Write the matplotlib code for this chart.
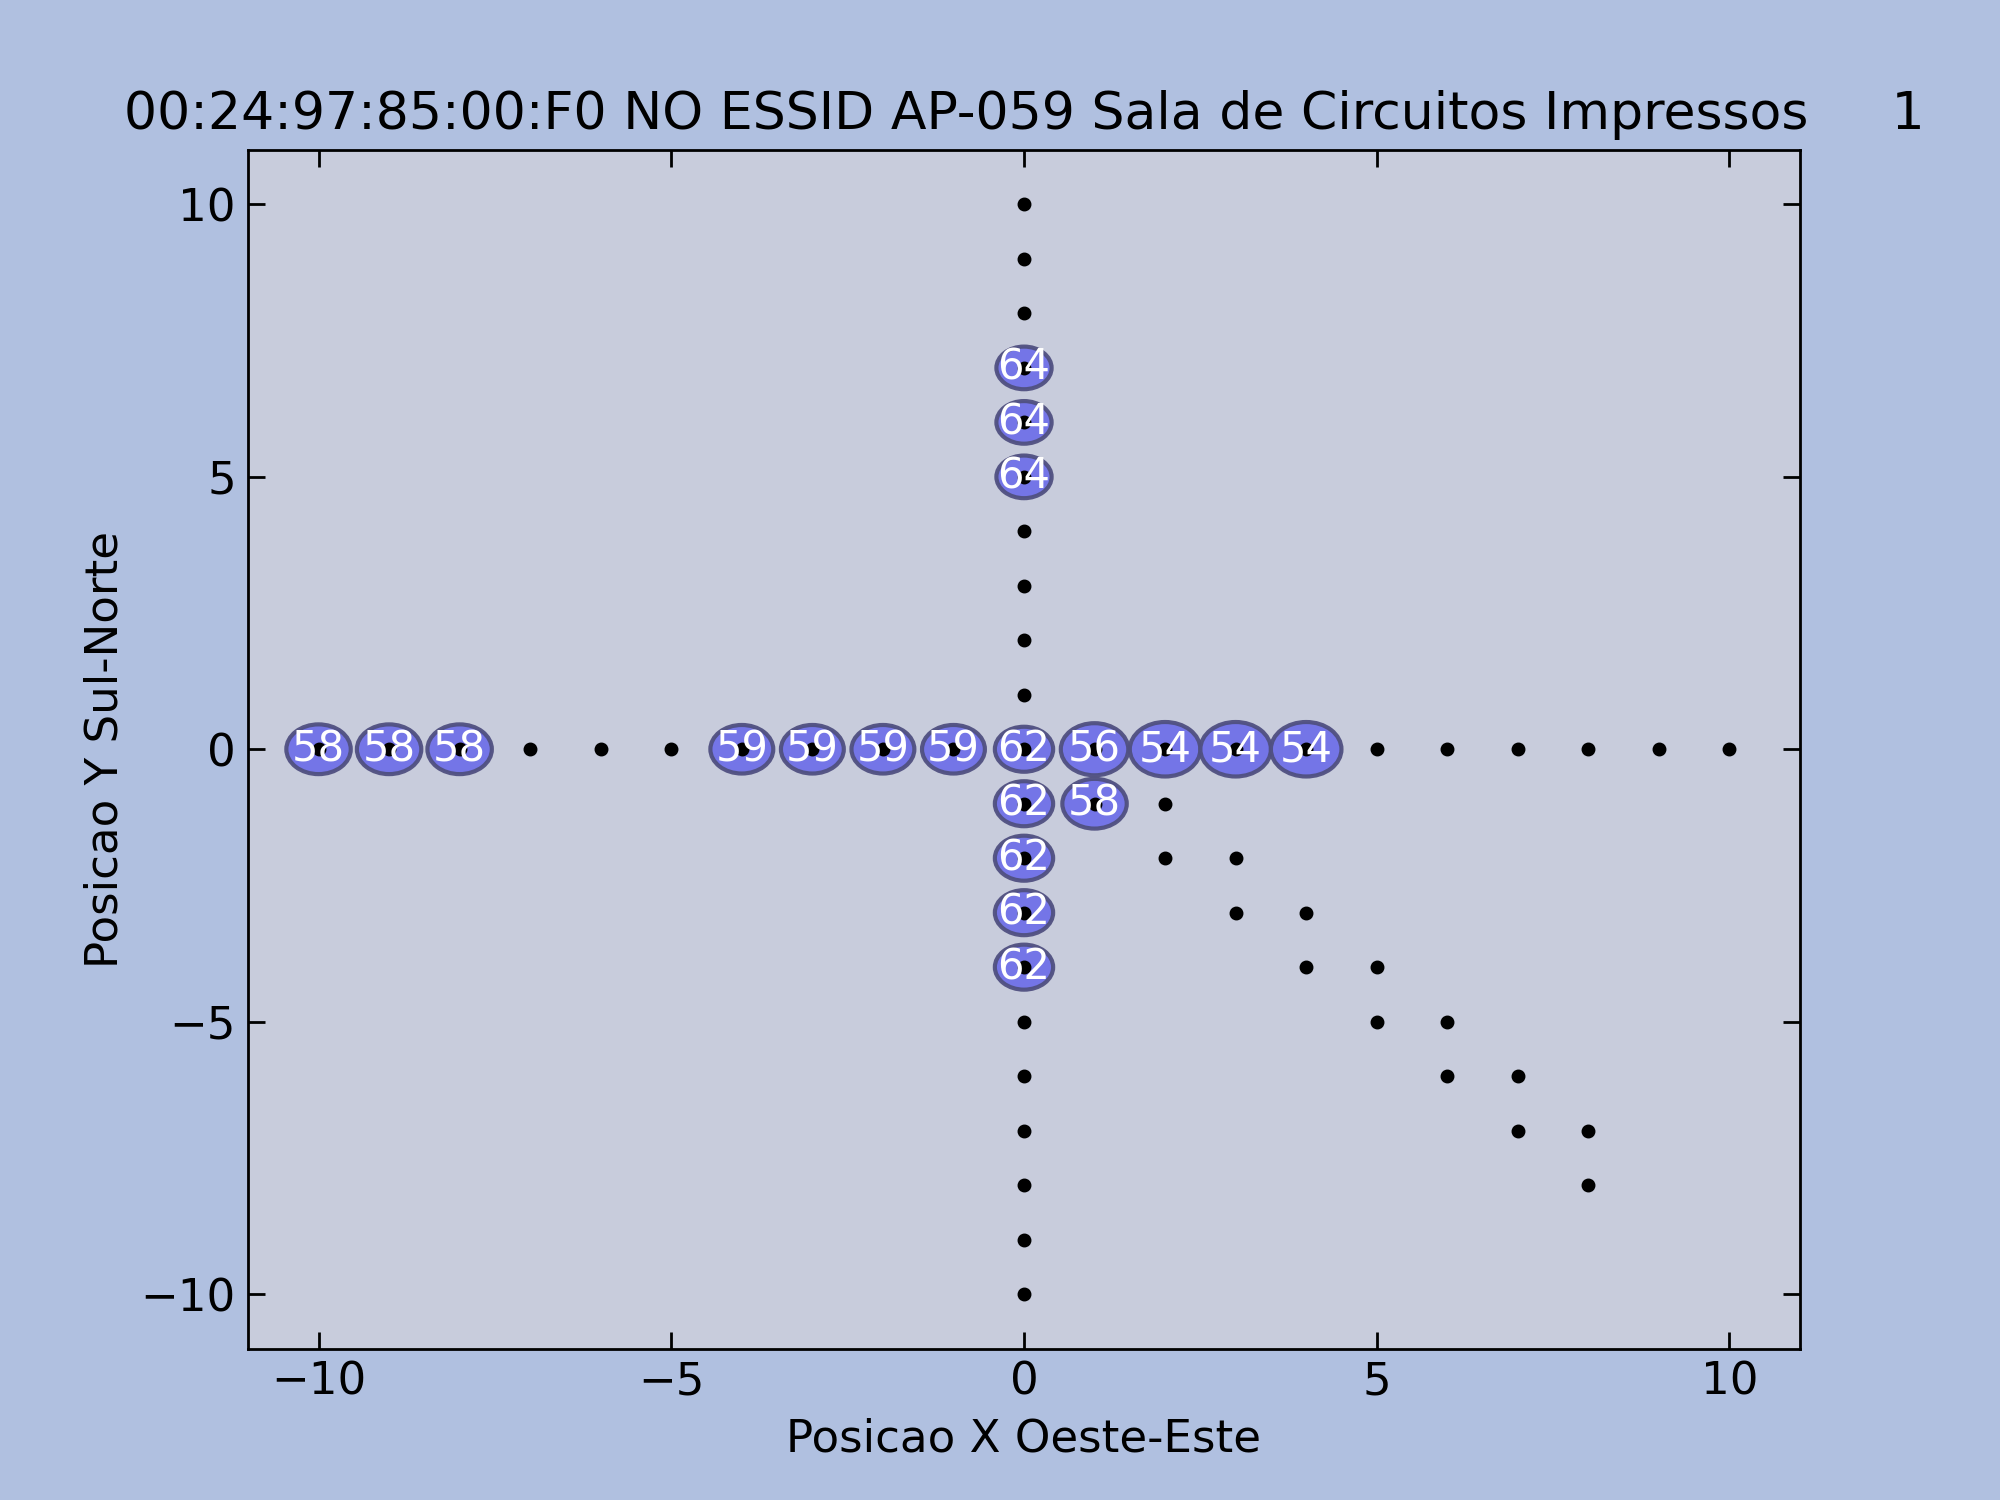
import matplotlib.pyplot as plt
from matplotlib.patches import Ellipse
import numpy as np

grid_x = list(range(-10, 11)) + [0] * 20 + [1, 2, 2, 3, 3, 4, 4, 5, 5, 6, 6, 7, 7, 8, 8]
grid_y = [0] * 21 + [v for v in range(-10, 11) if v != 0] + [-1, -1, -2, -2, -3, -3, -4, -4, -5, -5, -6, -6, -7, -7, -8]

sig_x = [-10, -9, -8, -4, -3, -2, -1, 0, 1, 2, 3, 4, 0, 0, 0, 0, 1, 0, 0, 0]
sig_y = [0, 0, 0, 0, 0, 0, 0, 0, 0, 0, 0, 0, 7, 6, 5, -1, -1, -2, -3, -4]
sig_v = [58, 58, 58, 59, 59, 59, 59, 62, 56, 54, 54, 54, 64, 64, 64, 62, 58, 62, 62, 62]

fig = plt.figure(figsize=(8, 6), dpi=250, facecolor='#b0c0e0')
ax = fig.add_axes([0.124, 0.101, 0.776, 0.799], facecolor='#c8ccdc')

for x, y, v in zip(sig_x, sig_y, sig_v):
    d = (100 - v) / 46.0
    ax.add_patch(Ellipse((x, y), d, d, facecolor='#7070e8', edgecolor='#505080',
                         linewidth=1.2, alpha=0.95, zorder=2))
ax.plot(grid_x, grid_y, 'o', color='black', markersize=3, zorder=3)
for x, y, v in zip(sig_x, sig_y, sig_v):
    ax.text(x, y, str(v), color='white', fontsize=12, ha='center', va='center', zorder=4)

ax.set_xlim(-11, 11)
ax.set_ylim(-11, 11)
ax.set_xticks([-10, -5, 0, 5, 10])
ax.set_yticks([-10, -5, 0, 5, 10])
ax.tick_params(direction='in', top=True, right=True, labelsize=13, length=5)
ax.set_xlabel('Posicao X Oeste-Este', fontsize=13)
ax.set_ylabel('Posicao Y Sul-Norte', fontsize=13)
ax.set_title('00:24:97:85:00:F0 NO ESSID AP-059 Sala de Circuitos Impressos     1', fontsize=15)

fig.savefig('out.png', facecolor=fig.get_facecolor())
